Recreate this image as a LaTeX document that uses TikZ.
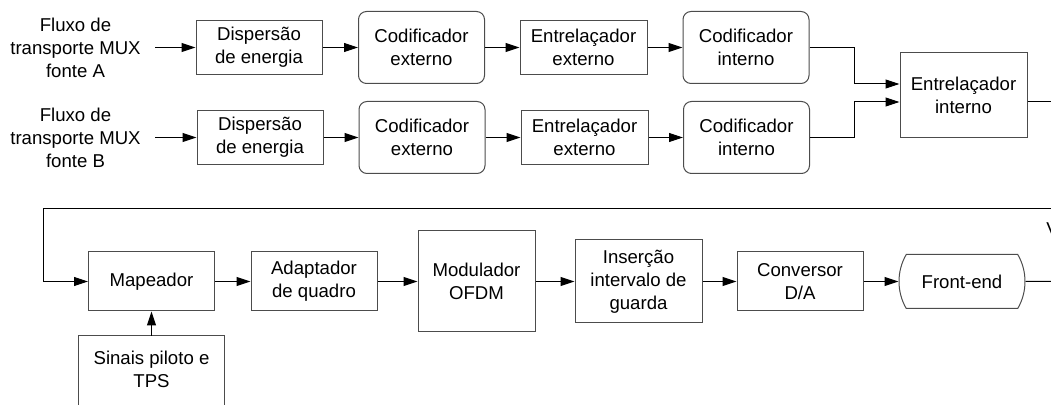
\documentclass[tikz,border=0pt]{standalone}
\usepackage{fontspec}
\setmainfont{Liberation Sans}
\usetikzlibrary{arrows.meta,shapes.misc}

\begin{document}
\begin{tikzpicture}[x=0.5pt, y=-0.5pt, font=\fontsize{9.3}{11.5}\selectfont,
  blk/.style={draw=black!70, line width=0.5pt, align=center, inner sep=0pt,
    minimum width=63pt, minimum height=27pt},
  rblk/.style={blk, rounded corners=4pt, minimum height=36pt},
  frontblk/.style={blk, rounded rectangle, rounded rectangle arc length=60},
  src/.style={align=center, inner xsep=7pt, inner ysep=0pt},
  flow/.style={-{Triangle[length=7pt,width=4.5pt]}, line width=0.5pt}]
  \useasboundingbox (0,0) rectangle (1051,405);
  \clip (0,0) rectangle (1051,405);

  % first chain, source A
  \node[src] (srcA) at (75.5,47.5) {Fluxo de\\transporte MUX\\fonte A};
  \node[blk] (dispA) at (259,47.5) {Dispersão\\de energia};
  \node[rblk] (codA) at (421.5,47.5) {Codificador\\externo};
  \node[blk, minimum width=63.5pt] (entA) at (583.5,47.5) {Entrelaçador\\externo};
  \node[rblk] (ciA) at (746,47.5) {Codificador\\interno};

  % second chain, source B
  \node[src] (srcB) at (75.5,137.5) {Fluxo de\\transporte MUX\\fonte B};
  \node[blk] (dispB) at (260,137.5) {Dispersão\\de energia};
  \node[rblk] (codB) at (422,137.5) {Codificador\\externo};
  \node[blk, minimum width=63.5pt] (entB) at (584.5,137.5) {Entrelaçador\\externo};
  \node[rblk] (ciB) at (746.5,137.5) {Codificador\\interno};

  \node[blk, minimum width=63.5pt, minimum height=42.5pt] (eint) at (963.5,95.5) {Entrelaçador\\interno};

  \draw[flow] (srcA) -- (dispA);
  \draw[flow] (dispA) -- (codA);
  \draw[flow] (codA) -- (entA);
  \draw[flow] (entA) -- (ciA);
  \draw[flow] (srcB) -- (dispB);
  \draw[flow] (dispB) -- (codB);
  \draw[flow] (codB) -- (entB);
  \draw[flow] (entB) -- (ciB);
  \draw[flow] (ciA.east) -- (854,47.5) |- ([yshift=5.75pt]eint.west);
  \draw[flow] (ciB.east) -- (854,137.5) |- ([yshift=-3.25pt]eint.west);

  % transmitter chain
  \node[blk, minimum height=29.5pt] (map) at (151.5,281.5) {Mapeador};
  \node[blk, minimum height=29.5pt] (adap) at (314,281.5) {Adaptador\\de quadro};
  \node[blk, minimum width=58.5pt, minimum height=50.5pt] (mod) at (476.5,281.5) {Modulador\\OFDM};
  \node[blk, minimum width=63.5pt, minimum height=41.5pt] (ins) at (638.5,281.5) {Inserção\\intervalo de\\guarda};
  \node[blk, minimum height=29.5pt] (conv) at (800,281.5) {Conversor\\D/A};
  \node[frontblk] (fe) at (962,281.5) {Front-end};
  \coordinate (out) at (1060,281.5);
  \node[anchor=base west, inner sep=0pt] (vfrag) at (1046,236) {V};

  \node[align=center, inner sep=0pt, minimum width=72.5pt, minimum height=33.5pt] (pilot) at (151.5,369.5) {Sinais piloto e\\TPS};
  \draw[draw=black!70, line width=0.5pt] ([yshift=-10pt]pilot.south west) |- (pilot.north east) -- ([yshift=-10pt]pilot.south east);

  \draw[flow] ([yshift=-3.25pt]eint.east) -- (1070,102) -- (1070,209) -- (43,209) |- (map);
  \draw[flow] (map) -- (adap);
  \draw[flow] (adap) -- (mod);
  \draw[flow] (mod) -- (ins);
  \draw[flow] (ins) -- (conv);
  \draw[flow] (conv) -- (fe);
  \draw[line width=0.5pt] (fe) -- (out);
  \draw[flow] (pilot) -- (map);
\end{tikzpicture}
\end{document}
